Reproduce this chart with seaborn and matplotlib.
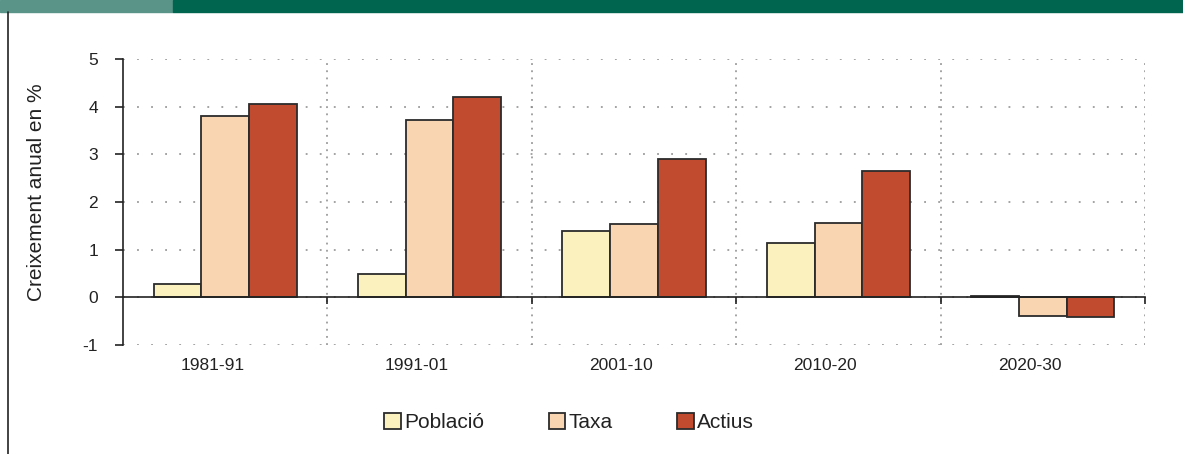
import matplotlib
matplotlib.use("Agg")
import matplotlib.pyplot as plt
import matplotlib.transforms as mtransforms
import seaborn as sns
import pandas as pd
from matplotlib.patches import Rectangle
from matplotlib.lines import Line2D

periods = ["1981-91", "1991-01", "2001-10", "2010-20", "2020-30"]
poblacio = [0.29, 0.49, 1.39, 1.13, 0.03]
taxa = [3.80, 3.72, 1.54, 1.56, -0.39]
actius = [4.06, 4.20, 2.91, 2.65, -0.42]
series = ["Població", "Taxa", "Actius"]
colors = ["#FAF1BE", "#FAD5B1", "#C04B2F"]

df = pd.DataFrame({
    "period": periods * 3,
    "serie": [series[0]] * 5 + [series[1]] * 5 + [series[2]] * 5,
    "value": poblacio + taxa + actius,
})

sns.set_style("white")
plt.rcParams["font.family"] = ["Liberation Sans", "DejaVu Sans"]

fig = plt.figure(figsize=(11.83, 4.54), dpi=100)
ax = fig.add_axes([123 / 1183, 1 - 345 / 454, (1145 - 123) / 1183, (345 - 59) / 454])

sns.barplot(data=df, x="period", y="value", hue="serie", hue_order=series,
            palette=colors, saturation=1, width=0.7, edgecolor="#2b2b2b",
            linewidth=1.3, ax=ax, legend=True, zorder=3)

ax.set_xlim(-0.5, 4.5)
ax.set_ylim(-1, 5)
ax.set_yticks(range(-1, 6))
ax.set_yticklabels([str(v) for v in range(-1, 6)])
ax.set_xticks(range(len(periods)))
ax.set_xticklabels(periods)
ax.set_xticks([0.5, 1.5, 2.5, 3.5, 4.5], minor=True)

ax.set_xlabel("")
ax.set_ylabel("Creixement anual en %", fontsize=15, color="#222222")
ax.yaxis.set_label_coords((46 - 123) / 1022, (345 - 192) / 286)

for s in ["top", "right"]:
    ax.spines[s].set_visible(False)
ax.spines["left"].set_color("#222222")
ax.spines["left"].set_linewidth(1.2)
ax.spines["bottom"].set_position(("data", 0))
ax.spines["bottom"].set_color("#222222")
ax.spines["bottom"].set_linewidth(1.2)
ax.spines["bottom"].set_zorder(4)

ax.grid(False)
ax.yaxis.grid(True, which="major", linestyle=(0, (1.2, 8)), color="#8a8a8a", linewidth=1.1)
ax.xaxis.grid(True, which="minor", linestyle=(0, (1.2, 3.5)), color="#8a8a8a", linewidth=1.1)
ax.set_axisbelow(True)

ax.tick_params(axis="y", which="major", left=True, length=6, width=1.2, color="#222222",
               labelsize=12.5, labelcolor="#222222", pad=12)
ax.tick_params(axis="x", which="major", bottom=False, length=0, labelsize=12.5,
               labelcolor="#222222", pad=44)
ax.tick_params(axis="x", which="minor", bottom=True, length=5, width=1.2, color="#222222")

shift = mtransforms.ScaledTranslation(-13 / 100, 0, fig.dpi_scale_trans)
for lab in ax.get_xticklabels():
    lab.set_transform(lab.get_transform() + shift)

leg = ax.get_legend()
handles = leg.legend_handles
leg.remove()
fig.legend(handles, series, loc="center", bbox_to_anchor=(0.481, 0.07), ncol=3,
           frameon=False, fontsize=15, columnspacing=3.1, handlelength=0.8,
           handleheight=0.8, handletextpad=0.15, labelcolor="#222222")

fig.patches.append(Rectangle((0, 1 - 12 / 454), 173 / 1183, 12 / 454,
                             transform=fig.transFigure, color="#5A9488", zorder=0))
fig.patches.append(Rectangle((173 / 1183, 1 - 12 / 454), 1 - 173 / 1183, 12 / 454,
                             transform=fig.transFigure, color="#00654F", zorder=0))
fig.lines.append(Line2D([8 / 1183, 8 / 1183], [0, 1 - 12 / 454], transform=fig.transFigure,
                        color="#222222", linewidth=1.2))

fig.savefig("out.png", dpi=100)
